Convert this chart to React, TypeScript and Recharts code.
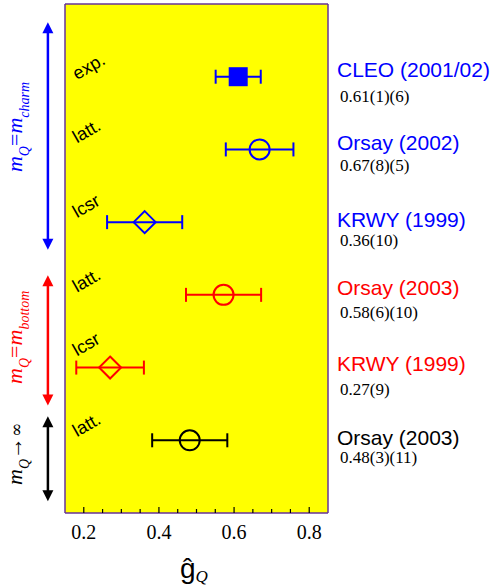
import React from "react";
import { ScatterChart, Scatter, XAxis, YAxis, ErrorBar, CartesianGrid, ReferenceLine } from "recharts";

// ---- data ----
const rowIds = [1, 2, 3, 4, 5, 6];
const gValues = [0.611, 0.668, 0.362, 0.572, 0.27, 0.482];
const gErrors = [0.06, 0.09, 0.1, 0.1, 0.09, 0.1];
const methodLabels = ["exp.", "latt.", "lcsr", "latt.", "lcsr", "latt."];
const refNames = ["CLEO (2001/02)", "Orsay (2002)", "KRWY (1999)", "Orsay (2003)", "KRWY (1999)", "Orsay (2003)"];
const refResults = ["0.61(1)(6)", "0.67(8)(5)", "0.36(10)", "0.58(6)(10)", "0.27(9)", "0.48(3)(11)"];
const rowMarkers = ["square", "circle", "diamond", "circle", "diamond", "circle"];

const groupStart = [0.25, 3.73, 5.67];
const groupEnd = [3.38, 5.52, 6.84];
const groupSubs = ["charm", "bottom", ""];

const xMinorTicks = [0.2, 0.25, 0.3, 0.35, 0.4, 0.45, 0.5, 0.55, 0.6, 0.65, 0.7, 0.75, 0.8];
const xMajorTicks = [0.2, 0.4, 0.6, 0.8];
const xDomain = [0.15, 0.85];
const yDomain = [0, 7];
const arrowX = 0.1045;

// ---- styles ----
const BLUE = "#0000ff";
const RED = "#ff0000";
const BLACK = "#000000";
const rowColors = [BLUE, BLUE, BLUE, RED, RED, BLACK];
const groupColors = [BLUE, RED, BLACK];
const groupLabelDy = [-9, -3, -5];
const methodDy = [3.5, -6, -4, -2, -11, -3];
const nameDy = [0, 1, 5, 0, 3, 5];
const resultDy = [25, 22, 24, 23, 27, 23];
const SANS = "'Liberation Sans', Arial, sans-serif";
const SERIF = "'Liberation Serif', 'Times New Roman', serif";
const BORDER = "#663399";

const isMajor = (v: number) => xMajorTicks.some((m) => Math.abs(m - v) < 1e-6);

const BottomTick = (props: any) => {
  const { x, y, payload } = props;
  const major = isMajor(payload.value);
  return (
    <g>
      <line x1={x} x2={x} y1={y} y2={y - (major ? 6 : 4)} stroke="#000" strokeWidth={1.2} />
      {major && (
        <text x={x} y={y + 26} textAnchor="middle" fontFamily={SERIF} fontSize={20} fill="#000">
          {String(payload.value)}
        </text>
      )}
    </g>
  );
};

const TopTick = (props: any) => {
  const { x, y, payload } = props;
  const major = isMajor(payload.value);
  return <line x1={x} x2={x} y1={y} y2={y + (major ? 6 : 4)} stroke="#000" strokeWidth={1.2} />;
};

const makeShape = (i: number) => (props: any) => {
  const { cx, cy } = props;
  const c = rowColors[i];
  let marker: React.ReactNode = null;
  if (rowMarkers[i] === "square") {
    marker = <rect x={cx - 9.5} y={cy - 9.5} width={19} height={19} fill={c} />;
  } else if (rowMarkers[i] === "circle") {
    marker = <circle cx={cx} cy={cy} r={10} fill="none" stroke={c} strokeWidth={2} />;
  } else {
    const d = 11;
    marker = (
      <polygon
        points={`${cx},${cy - d} ${cx + d},${cy} ${cx},${cy + d} ${cx - d},${cy}`}
        fill="none"
        stroke={c}
        strokeWidth={2}
      />
    );
  }
  const my = cy + methodDy[i];
  return (
    <g>
      {marker}
      <text x={77} y={my} transform={`rotate(-30 77 ${my})`} fontFamily={SANS} fontSize={18} fill="#000">
        {methodLabels[i]}
      </text>
      <text x={337} y={cy + nameDy[i]} fontFamily={SANS} fontSize={21} fill={c}>
        {refNames[i]}
      </text>
      <text x={340} y={cy + resultDy[i]} fontFamily={SERIF} fontSize={17} fill="#000">
        {refResults[i]}
      </text>
    </g>
  );
};

const makeArrow = (i: number) => (props: any) => {
  const { x1, y1, y2 } = props;
  const c = groupColors[i];
  const top = Math.min(y1, y2);
  const bot = Math.max(y1, y2);
  const x = x1;
  const h = 11;
  const w = 5.5;
  const mid = (top + bot) / 2 + groupLabelDy[i];
  const lx = 22;
  return (
    <g>
      <line x1={x} x2={x} y1={top + h - 1} y2={bot - h + 1} stroke={c} strokeWidth={2.5} />
      <polygon points={`${x},${top} ${x - w},${top + h} ${x + w},${top + h}`} fill={c} />
      <polygon points={`${x},${bot} ${x - w},${bot - h} ${x + w},${bot - h}`} fill={c} />
      <text
        x={lx}
        y={mid}
        transform={`rotate(-90 ${lx} ${mid})`}
        textAnchor="middle"
        fontFamily={SERIF}
        fontSize={22}
        fill={c}
      >
        <tspan fontStyle="italic">m</tspan>
        <tspan fontStyle="italic" fontSize={14} dy={7}>Q</tspan>
        {groupSubs[i] ? (
          <>
            <tspan dy={-7}>=</tspan>
            <tspan fontStyle="italic">m</tspan>
            <tspan fontStyle="italic" fontSize={14} dy={7}>{groupSubs[i]}</tspan>
          </>
        ) : (
          <>
            <tspan dy={-7}>→</tspan>
            <tspan fontFamily="'DejaVu Serif', serif" fontSize={17}>∞</tspan>
          </>
        )}
      </text>
    </g>
  );
};

const AxisTitle = () => (
  <text x={180} y={578} fontFamily={SANS} fontSize={28} fill="#000">
    ĝ
    <tspan fontFamily={SERIF} fontStyle="italic" fontSize={17} dy={4}>Q</tspan>
  </text>
);

export default function App() {
  return (
    <div style={{ position: "absolute", left: 0, top: 0, background: "#fff" }}>
      <ScatterChart width={495} height={585} margin={{ top: 2, left: 63, right: 165, bottom: 42 }}>
        <CartesianGrid fill="#ffff00" horizontal={false} vertical={false} stroke="none" />
        <XAxis
          dataKey="g"
          type="number"
          domain={xDomain}
          ticks={xMinorTicks}
          interval={0}
          height={30}
          tickSize={0}
          tickMargin={0}
          tickLine={false}
          tick={BottomTick}
          axisLine={{ stroke: BORDER, strokeWidth: 1.5 }}
          label={{ content: () => <AxisTitle /> }}
        />
        <XAxis
          xAxisId="top"
          orientation="top"
          dataKey="g"
          type="number"
          domain={xDomain}
          ticks={xMinorTicks}
          interval={0}
          height={2}
          tickSize={0}
          tickMargin={0}
          tickLine={false}
          tick={TopTick}
          axisLine={{ stroke: BORDER, strokeWidth: 1.5 }}
        />
        <YAxis
          dataKey="row"
          type="number"
          domain={yDomain}
          reversed
          width={2}
          tick={false}
          tickLine={false}
          axisLine={{ stroke: BORDER, strokeWidth: 1.5 }}
        />
        <YAxis
          yAxisId="right"
          orientation="right"
          type="number"
          domain={yDomain}
          reversed
          width={2}
          tick={false}
          tickLine={false}
          axisLine={{ stroke: BORDER, strokeWidth: 1.5 }}
        />
        {groupStart.map((s, i) => (
          <ReferenceLine
            key={"grp" + i}
            segment={[
              { x: arrowX, y: s },
              { x: arrowX, y: groupEnd[i] },
            ]}
            ifOverflow="visible"
            shape={makeArrow(i)}
          />
        ))}
        {rowIds.map((r, i) => (
          <Scatter
            key={"row" + i}
            data={[{ g: gValues[i], row: r, err: gErrors[i] }]}
            isAnimationActive={false}
            shape={makeShape(i)}
          >
            <ErrorBar dataKey="err" direction="x" width={7} strokeWidth={2} stroke={rowColors[i]} isAnimationActive={false} />
          </Scatter>
        ))}
      </ScatterChart>
    </div>
  );
}
